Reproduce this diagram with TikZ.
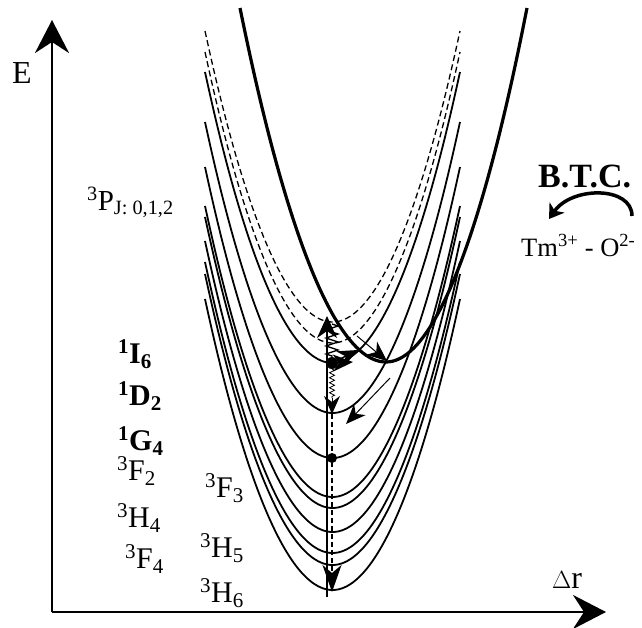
\documentclass[tikz,border=0pt]{standalone}
\usepackage{fontspec}
\setmainfont{Liberation Serif}
\usetikzlibrary{arrows.meta,decorations.pathmorphing}
\begin{document}
\begin{tikzpicture}[x=1pt,y=-1pt,
  lvl/.style={line width=1.8pt},
  lvld/.style={line width=1.3pt, dash pattern=on 6pt off 3.5pt},
  ctline/.style={line width=3.2pt},
  axisline/.style={line width=2.8pt, -{Stealth[length=33pt,width=34pt,inset=11pt]}},
  lab/.style={font=\fontsize{30}{36}\selectfont, anchor=base west, inner sep=0pt},
  blab/.style={font=\fontsize{30}{36}\selectfont\bfseries, anchor=base west, inner sep=0pt},
  bigtip/.style={-{Stealth[length=22pt,width=20pt,inset=7pt]}},
  midtip/.style={-{Stealth[length=20pt,width=17pt,inset=6pt]}},
  dotfill/.style={fill=black},
  wiggle/.style={decorate, decoration={zigzag, segment length=8pt, amplitude=6pt}, line width=1.4pt},
  smallwiggle/.style={decorate, decoration={zigzag, segment length=5pt, amplitude=2.5pt}, line width=0.8pt}
]
\useasboundingbox (0,0) rectangle (642,627);

% axes
\coordinate (origin) at (52,612);
\coordinate (ytop) at (52,20);
\coordinate (xend) at (606,612);
\draw[axisline] (origin) -- (ytop);
\draw[axisline] (origin) -- (xend);
\node[lab, font=\fontsize{32}{38}\selectfont] (elab) at (12,83) {E};
\node[lab, font=\fontsize{32}{38}\selectfont] (drlab) at (552,588) {$\Delta$r};

% dashed 3P curves
\foreach \v in {322,343}
  \draw[lvld] (205,\v-291) parabola bend (332.5,\v) (460,\v-291);
% solid levels
\foreach \v in {363,413,458,497,508,532,553,565,590}
  \draw[lvl] (205,\v-291) parabola bend (332.5,\v) (460,\v-291);
% charge transfer curve
\draw[ctline] (240,8) parabola bend (386,362) (527,8);

% transitions
\coordinate (exbot) at (327,597);
\coordinate (extop) at (327,316);
\draw[line width=1.3pt, bigtip] (exbot) -- (extop);

\coordinate (zzA) at (332,324);
\coordinate (zzB) at (332,357);
\draw[wiggle] (zzA) -- (zzB);

\coordinate (i6) at (332,363);
\coordinate (d2) at (332,414);
\coordinate (g4) at (332,458);
\coordinate (h6) at (332,592);

\coordinate (cross1) at (358,350);
\coordinate (cross2) at (353,362);
\draw[line width=1.5pt, midtip] (i6) -- (cross1);
\draw[line width=1.5pt, midtip] (i6) -- (cross2);

\coordinate (ctA) at (357,336);
\coordinate (ctmin) at (387,361);
\draw[line width=1pt, midtip] (ctA) -- (ctmin);

\coordinate (ctB) at (390,378);
\coordinate (ctend) at (346,424);
\draw[line width=1pt, -{Stealth[length=20pt,width=16pt,inset=6pt]}] (ctB) -- (ctend);

\coordinate (swA) at (332,369);
\coordinate (swB) at (332,398);
\draw[smallwiggle] (swA) -- (swB);
\draw[line width=1pt, -{Stealth[length=18pt,width=16pt,inset=6pt]}] (swB) -- (d2);

\draw[line width=1.2pt, dash pattern=on 5pt off 3pt, -{Stealth[length=27pt,width=19pt,inset=8pt]}] (d2) -- (h6);

\fill[dotfill] (i6) circle (6pt);
\fill[dotfill] (g4) circle (5pt);

% labels
\node[lab, font=\fontsize{29}{34}\selectfont] (p) at (87,210) {\textsuperscript{3}P\textsubscript{J: 0,1,2}};
\node[blab] (li6) at (118,363) {\textsuperscript{1}I\textsubscript{6}};
\node[blab] (ld2) at (118,405) {\textsuperscript{1}D\textsubscript{2}};
\node[blab] (lg4) at (118,450) {\textsuperscript{1}G\textsubscript{4}};
\node[lab] (lf2) at (117,480) {\textsuperscript{3}F\textsubscript{2}};
\node[lab] (lf3) at (205,497) {\textsuperscript{3}F\textsubscript{3}};
\node[lab] (lh4) at (117,527) {\textsuperscript{3}H\textsubscript{4}};
\node[lab] (lh5) at (200,557) {\textsuperscript{3}H\textsubscript{5}};
\node[lab] (lf4) at (125,568) {\textsuperscript{3}F\textsubscript{4}};
\node[lab] (lh6) at (200,602) {\textsuperscript{3}H\textsubscript{6}};

% B.T.C.
\node[blab, font=\fontsize{34}{40}\selectfont\bfseries] (btc) at (538,187) {B.T.C.};
\node[lab, font=\fontsize{26.5}{32}\selectfont] (tmo) at (521,256) {Tm\textsuperscript{3+} - O\textsuperscript{2-}};
\coordinate (bA) at (632,216);
\coordinate (bB) at (549,219);
\draw[line width=3.5pt, -{Stealth[length=14pt,width=18pt,inset=4pt]}] (bA) .. controls (632,186) and (572,186) .. (bB);
\end{tikzpicture}
\end{document}
